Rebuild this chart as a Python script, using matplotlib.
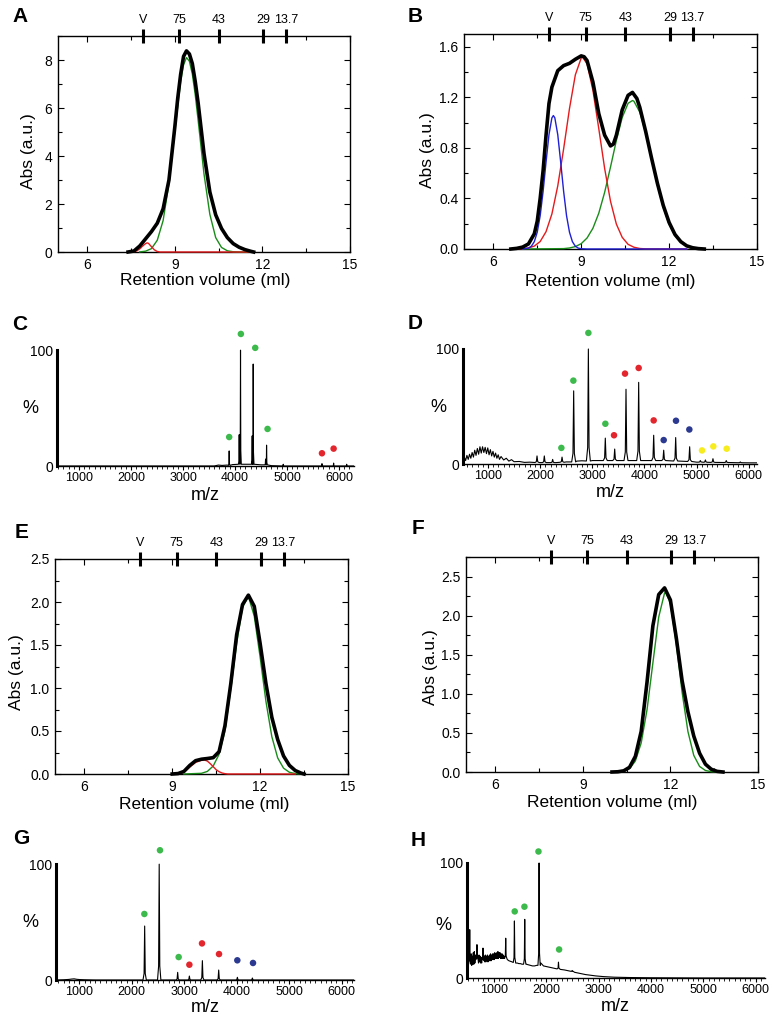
import matplotlib
matplotlib.use("Agg")
import matplotlib.pyplot as plt
from matplotlib.ticker import MultipleLocator, FormatStrFormatter

plt.rcParams['font.family'] = ['Liberation Sans', 'DejaVu Sans']

# ---------------- size-exclusion markers (top axis) ----------------
marker_vol = [7.9, 9.15, 10.5, 12.03, 12.8]
marker_lbl = ['V', '75', '43', '29', '13.7']

# ---------------- panel A ----------------
a_vol = [7.4, 7.6, 7.8, 8.0, 8.2, 8.4, 8.6, 8.8, 9.0, 9.1, 9.2, 9.3, 9.4, 9.5, 9.6, 9.7,
         9.8, 10.0, 10.2, 10.4, 10.6, 10.8, 11.0, 11.2, 11.4, 11.6, 11.7]
a_abs = [0, 0.04, 0.25, 0.55, 0.85, 1.2, 1.8, 3.0, 5.2, 6.4, 7.4, 8.15, 8.38, 8.25, 7.85,
         7.1, 6.2, 4.1, 2.5, 1.55, 0.98, 0.6, 0.35, 0.2, 0.1, 0.03, 0]
a_green_vol = [7.8, 8.0, 8.2, 8.4, 8.6, 8.8, 9.0, 9.2, 9.3, 9.4, 9.5, 9.6, 9.7, 9.8, 10.0,
               10.2, 10.4, 10.6, 10.8, 11.0, 11.2, 11.6]
a_green_abs = [0.005, 0.035, 0.14, 0.49, 1.31, 2.86, 5.03, 7.1, 7.8, 8.1, 7.95, 7.42, 6.55,
               5.48, 3.25, 1.57, 0.6, 0.19, 0.05, 0.01, 0, 0]
a_red_vol = [7.5, 7.6, 7.7, 7.8, 7.9, 8.0, 8.05, 8.1, 8.2, 8.3, 8.4, 8.5, 11.6]
a_red_abs = [0, 0.01, 0.05, 0.13, 0.25, 0.35, 0.38, 0.36, 0.22, 0.09, 0.02, 0, 0]

# ---------------- panel B ----------------
b_vol = [6.6, 6.8, 7.0, 7.2, 7.4, 7.5, 7.6, 7.7, 7.8, 7.9, 8.0, 8.2, 8.4, 8.6, 8.8, 9.0,
         9.1, 9.2, 9.4, 9.6, 9.8, 10.0, 10.1, 10.2, 10.4, 10.6, 10.75, 10.9, 11.0, 11.2,
         11.4, 11.6, 11.8, 12.0, 12.2, 12.4, 12.6, 12.8, 13.0, 13.2]
b_abs = [0, 0.005, 0.015, 0.04, 0.12, 0.22, 0.4, 0.62, 0.9, 1.15, 1.28, 1.41, 1.45, 1.468,
         1.5, 1.527, 1.52, 1.49, 1.32, 1.07, 0.9, 0.815, 0.83, 0.9, 1.1, 1.215, 1.238, 1.19,
         1.12, 0.93, 0.72, 0.52, 0.345, 0.21, 0.115, 0.058, 0.025, 0.01, 0.003, 0]
b_blue_vol = [7.0, 7.2, 7.3, 7.4, 7.5, 7.6, 7.7, 7.8, 7.9, 8.0, 8.05, 8.1, 8.2, 8.3, 8.4,
              8.5, 8.6, 8.7, 8.8, 8.9, 9.0, 9.2, 12.6]
b_blue_abs = [0.001, 0.007, 0.022, 0.058, 0.133, 0.263, 0.456, 0.687, 0.904, 1.037, 1.055,
              1.037, 0.904, 0.687, 0.456, 0.263, 0.133, 0.058, 0.022, 0.007, 0.002, 0, 0]
b_red_vol = [6.8, 7.0, 7.2, 7.4, 7.6, 7.8, 8.0, 8.2, 8.4, 8.6, 8.8, 9.0, 9.05, 9.2, 9.4,
             9.6, 9.8, 10.0, 10.2, 10.4, 10.6, 10.8, 11.0, 11.2, 12.6]
b_red_abs = [0, 0.002, 0.008, 0.023, 0.059, 0.137, 0.277, 0.499, 0.791, 1.11, 1.377, 1.51,
             1.516, 1.464, 1.255, 0.952, 0.637, 0.378, 0.197, 0.092, 0.037, 0.014, 0.004,
             0.001, 0]
b_green_vol = [7.0, 8.4, 8.6, 8.8, 9.0, 9.2, 9.4, 9.6, 9.8, 10.0, 10.2, 10.4, 10.6, 10.75,
               10.8, 11.0, 11.2, 11.4, 11.6, 11.8, 12.0, 12.2, 12.4, 12.6, 12.8, 13.0, 13.2]
b_green_abs = [0, 0.003, 0.008, 0.019, 0.042, 0.087, 0.164, 0.283, 0.448, 0.648, 0.858,
               1.04, 1.152, 1.174, 1.168, 1.082, 0.918, 0.712, 0.505, 0.328, 0.195, 0.106,
               0.052, 0.024, 0.01, 0.004, 0]

# ---------------- panel E ----------------
e_vol = [9.0, 9.2, 9.4, 9.6, 9.8, 10.0, 10.2, 10.4, 10.6, 10.8, 11.0, 11.2, 11.4, 11.6,
         11.8, 12.0, 12.2, 12.4, 12.6, 12.8, 13.0, 13.2, 13.4, 13.5]
e_abs = [0, 0.005, 0.03, 0.1, 0.155, 0.172, 0.18, 0.19, 0.26, 0.56, 1.05, 1.62, 1.97, 2.08,
         1.95, 1.52, 1.05, 0.66, 0.4, 0.21, 0.1, 0.04, 0.01, 0]
e_green_vol = [9.4, 10.0, 10.2, 10.4, 10.6, 10.8, 11.0, 11.2, 11.4, 11.6, 11.8, 12.0, 12.2,
               12.4, 12.6, 12.8, 13.0, 13.2, 13.4]
e_green_abs = [0, 0.008, 0.03, 0.093, 0.23, 0.5, 0.992, 1.519, 1.939, 2.066, 1.837, 1.362,
               0.843, 0.435, 0.187, 0.068, 0.02, 0.005, 0]
e_red_vol = [9.2, 9.4, 9.6, 9.8, 10.0, 10.1, 10.2, 10.3, 10.4, 10.5, 10.6, 10.7, 10.8,
             10.9, 13.2]
e_red_abs = [0, 0.02, 0.08, 0.135, 0.16, 0.163, 0.15, 0.12, 0.085, 0.05, 0.027, 0.012,
             0.004, 0, 0]

# ---------------- panel F ----------------
f_vol = [10.0, 10.2, 10.4, 10.6, 10.8, 11.0, 11.2, 11.4, 11.6, 11.8, 12.0, 12.2, 12.4,
         12.6, 12.8, 13.0, 13.2, 13.4, 13.6, 13.8]
f_abs = [0, 0.003, 0.015, 0.06, 0.2, 0.52, 1.15, 1.87, 2.27, 2.355, 2.2, 1.72, 1.17, 0.77,
         0.46, 0.24, 0.1, 0.035, 0.008, 0]
f_green_vol = [10.0, 10.2, 10.4, 10.6, 10.8, 11.0, 11.2, 11.4, 11.6, 11.8, 11.84, 12.0,
               12.2, 12.4, 12.6, 12.8, 13.0, 13.2, 13.4, 13.6]
f_green_abs = [0, 0.002, 0.011, 0.043, 0.141, 0.372, 0.798, 1.395, 1.982, 2.29, 2.3, 2.153,
               1.647, 1.023, 0.518, 0.213, 0.071, 0.019, 0.004, 0]

# ---------------- panel C (native MS) ----------------
c_bg_mz = [576, 3600, 3680, 3750, 3850, 3950, 4200, 4500, 4700, 5000, 6289]
c_bg_pct = [0, 0, 0.8, 0.5, 0.8, 1.2, 1.5, 1.0, 0.3, 0, 0]
c_pk_mz = [3888, 4081, 4106, 4331, 4350, 4588, 4607, 4928, 5673, 5897, 6148]
c_pk_top = [13, 27, 100, 26, 88, 6, 18, 1.5, 2, 2.5, 1.5]
c_pk_base = [0.5, 1.5, 1.5, 1.5, 1.5, 1, 1, 0, 0, 0, 0]
c_dot_mz = [3888, 4113, 4389, 4626, 5673, 5897]
c_dot_pct = [25, 114, 102, 32, 11, 15]
c_dot_col = ['g', 'g', 'g', 'g', 'r', 'r']

# ---------------- panel D ----------------
d_bg_mz = [520, 545, 570, 595, 620, 645, 670, 695, 720, 745, 770, 795, 820, 845, 870, 895,
           920, 945, 970, 995, 1020, 1045, 1070, 1095, 1120, 1145, 1170, 1195, 1220, 1250,
           1300, 1350, 1400, 1450, 1500, 1600, 1700, 1800, 2000, 2300, 2500, 2700, 2800,
           3000, 3500, 4000, 4400, 4800, 5000, 5500, 6000, 6160]
d_bg_pct = [2.5, 6, 3, 7.5, 4, 8.5, 5, 10, 6, 12, 7.5, 13.5, 8.5, 15, 9.5, 15, 10, 14.5, 9,
            14, 8, 12.5, 7, 11, 6, 9.5, 5, 8, 4, 6.5, 3.5, 5, 2.5, 3.8, 2, 2.2, 1.4, 1.6,
            1.2, 1.2, 1.8, 2.5, 2.8, 3, 3, 3, 2.8, 2.2, 1.6, 1.3, 1, 1]
d_pk_mz = [1940, 2080, 2240, 2420, 2643, 2925, 3250, 3430, 3647, 3890, 4178, 4370, 4600,
           4868, 5073, 5170, 5315, 5570, 5840]
d_pk_top = [7, 7, 4, 6, 63.6, 100, 22.5, 13, 65, 71, 25, 12, 23, 15, 3, 3.5, 4.6, 3, 1.8]
d_pk_base = [1.3, 1.2, 1.2, 1.5, 1.8, 2.6, 3, 3, 3, 3, 3, 3, 2.6, 2.2, 1.6, 1.5, 1.4, 1.3, 1.1]
d_dot_mz = [2407, 2637, 2925, 3251, 3417, 3628, 3890, 4178, 4370, 4606, 4862, 5105, 5322, 5578]
d_dot_pct = [14, 72.5, 114, 35, 25, 78.6, 83.5, 37.9, 20.8, 37.6, 30, 11.8, 15.3, 13.3]
d_dot_col = ['g', 'g', 'g', 'g', 'r', 'r', 'r', 'r', 'b', 'b', 'b', 'y', 'y', 'y']

# ---------------- panel G ----------------
g_bg_mz = [555, 700, 800, 850, 900, 950, 1000, 1100, 1300, 6235]
g_bg_pct = [0, 0.2, 0.5, 0.8, 1.0, 0.6, 0.4, 0.2, 0, 0]
g_pk_mz = [2245, 2522, 2874, 3097, 3345, 3656, 4012, 4298]
g_pk_top = [46.6, 100, 6.6, 3.4, 16.7, 8.6, 2.3, 1.7]
g_pk_base = [0, 0, 0, 0, 0, 0, 0, 0]
g_dot_mz = [2239, 2537, 2893, 3097, 3338, 3662, 4011, 4310]
g_dot_pct = [57, 112, 19.8, 13.2, 31.6, 22.4, 17, 14.7]
g_dot_col = ['g', 'g', 'g', 'r', 'r', 'r', 'b', 'b']

# ---------------- panel H ----------------
h_bg_mz = [500, 510, 520, 530, 550, 560, 570, 580, 590, 600, 610, 620, 630, 640, 650, 660,
           670, 690, 700, 710, 720, 730, 740, 750, 760, 770, 780, 810, 820, 830, 840, 850,
           860, 870, 880, 890, 900, 910, 920, 930, 940, 950, 960, 970, 980, 990, 1000, 1010,
           1020, 1030, 1040, 1050, 1060, 1070, 1080, 1090, 1100, 1110, 1120, 1130, 1140,
           1150, 1160, 1170, 1180, 1190, 1200, 1260, 1290, 1320, 1350, 1370, 1420, 1450,
           1480, 1510, 1540, 1565, 1620, 1660, 1700, 1740, 1780, 1820, 1900, 1950, 2000,
           2050, 2100, 2150, 2200, 2270, 2350, 2420, 2540, 2650, 2750, 2830, 2950, 3100,
           3300, 3600, 4000, 4500, 5000, 6178]
h_bg_pct = [5, 14, 9, 22, 18, 10, 21, 11, 19, 12, 22, 12, 23, 13, 20, 13, 19, 14, 21, 13,
            20, 14, 19, 13, 18, 13, 19, 14, 19, 14, 20, 14, 19, 15, 20, 14, 19, 15, 20, 15,
            21, 15, 20, 16, 21, 16, 21, 16, 22, 17, 21, 17, 22, 17, 23, 17, 22, 18, 22, 17,
            21, 17, 21, 17, 20, 17, 19, 16, 15, 14.5, 14, 13.5, 13, 13, 12.5, 12.5, 12, 12,
            12, 11.5, 11, 10.5, 10.5, 11, 13, 10.5, 10, 9.5, 9, 8.5, 8, 7.5, 7, 6.3, 5, 4,
            3, 2.5, 1.8, 1.2, 0.7, 0.4, 0.2, 0.1, 0, 0]
h_pk_mz = [542, 680, 795, 1229, 1395, 1592, 1866, 2236, 2497]
h_pk_top = [42, 29, 26, 34.6, 49.6, 51, 100, 13.8, 6.5]
h_pk_base = [12, 16, 15, 17, 13.5, 12, 11, 8, 5.8]
h_dot_mz = [1401, 1586, 1854, 2248]
h_dot_pct = [57.9, 62, 110, 24.8]
h_dot_col = ['g', 'g', 'g', 'g']

dot_colors = {'g': '#3dba4c', 'r': '#e3262e', 'b': '#2b3990', 'y': '#f7ec1d'}
c_green, c_red, c_blue = '#1a8c1a', '#e41a1c', '#1f1fd6'

W, H = 782, 1026
fig = plt.figure(figsize=(W / 100, H / 100), dpi=100)


def add_axes_px(l, t, r, b):
    return fig.add_axes([l / W, 1 - b / H, (r - l) / W, (b - t) / H])


def chrom_axes(box, ymax, ystep, fmt, label_xy, ylabel_xy):
    ax = add_axes_px(*box)
    tw = ax.twiny()
    tw.set_xlim(5, 15)
    tw.set_xticks(marker_vol)
    tw.set_xticklabels(marker_lbl)
    tw.tick_params(axis='x', direction='inout', length=10, width=2.2, labelsize=9, pad=2)
    for s in tw.spines.values():
        s.set_visible(False)
    ax.set_xlim(5, 15)
    ax.set_ylim(0, ymax)
    ax.xaxis.set_major_locator(MultipleLocator(3))
    ax.xaxis.set_minor_locator(MultipleLocator(1.5))
    ax.yaxis.set_major_locator(MultipleLocator(ystep))
    ax.yaxis.set_minor_locator(MultipleLocator(ystep / 2))
    if fmt:
        ax.yaxis.set_major_formatter(FormatStrFormatter(fmt))
    ax.tick_params(which='both', direction='in', top=True, right=True, labelsize=10, pad=4)
    ax.tick_params(which='major', length=4, width=0.8)
    ax.tick_params(which='minor', length=3, width=0.8)
    for s in ax.spines.values():
        s.set_linewidth(1.0)
    ax.set_xlabel('Retention volume (ml)', fontsize=12.5, va='center')
    ax.xaxis.set_label_coords(*label_xy)
    ax.set_ylabel('Abs (a.u.)', fontsize=12.5, va='center')
    ax.yaxis.set_label_coords(*ylabel_xy)
    return ax


def spectrum_line(bg_mz, bg_pct, pk_mz, pk_top, pk_base, half):
    pts = [(x, y) for x, y in zip(bg_mz, bg_pct) if all(abs(x - m) > half for m in pk_mz)]
    for m, top, base in zip(pk_mz, pk_top, pk_base):
        foot = base + 0.12 * (top - base)
        pts += [(m - half, base), (m - 0.35 * half, foot), (m, top),
                (m + 0.35 * half, foot), (m + half, base)]
    pts.sort()
    return [p[0] for p in pts], [p[1] for p in pts]


def ms_axes(box, xlim, label_xy, pct_xy):
    ax = add_axes_px(*box)
    ax.set_xlim(*xlim)
    ax.set_ylim(0, 120)
    ax.spines['top'].set_visible(False)
    ax.spines['right'].set_visible(False)
    ax.spines['left'].set_linewidth(2.2)
    ax.spines['left'].set_bounds(0, 100)
    ax.spines['bottom'].set_linewidth(1.0)
    ax.set_yticks([0, 100])
    ax.tick_params(axis='y', length=0, labelsize=10, pad=3)
    ax.xaxis.set_major_locator(MultipleLocator(1000))
    ax.xaxis.set_minor_locator(MultipleLocator(100))
    ax.tick_params(axis='x', which='major', direction='out', length=3, width=0.8,
                   labelsize=9, pad=1.5)
    ax.tick_params(axis='x', which='minor', direction='out', length=2, width=0.6)
    ax.set_xlabel('m/z', fontsize=13, va='center')
    ax.xaxis.set_label_coords(*label_xy)
    ax.set_ylabel('%', fontsize=13, rotation=0, va='center', ha='center')
    ax.yaxis.set_label_coords(*pct_xy)
    return ax


def draw_ms(ax, bg_mz, bg_pct, pk_mz, pk_top, pk_base, half, dot_mz, dot_pct, dot_col):
    x, y = spectrum_line(bg_mz, bg_pct, pk_mz, pk_top, pk_base, half)
    ax.plot(x, y, color='black', lw=0.8, zorder=3)
    ax.scatter(dot_mz, dot_pct, s=22, c=[dot_colors[k] for k in dot_col],
               edgecolors='none', zorder=4, clip_on=False)


# ---- A ----
ax = chrom_axes((58, 36, 350, 252), 9, 2, None, (0.503, -0.134), (-0.10, 0.468))
ax.plot(a_green_vol, a_green_abs, color=c_green, lw=1.0, zorder=3, clip_on=False)
ax.plot(a_red_vol, a_red_abs, color=c_red, lw=1.0, zorder=3, clip_on=False)
ax.plot(a_vol, a_abs, color='black', lw=2.6, zorder=4, clip_on=False)

# ---- B ----
ax = chrom_axes((464, 34, 757, 249), 1.7, 0.4, '%.1f', (0.498, -0.149), (-0.126, 0.46))
ax.plot(b_green_vol, b_green_abs, color=c_green, lw=1.0, zorder=3, clip_on=False)
ax.plot(b_red_vol, b_red_abs, color=c_red, lw=1.0, zorder=3, clip_on=False)
ax.plot(b_blue_vol, b_blue_abs, color=c_blue, lw=1.0, zorder=3, clip_on=False)
ax.plot(b_vol, b_abs, color='black', lw=2.6, zorder=4, clip_on=False)

# ---- E ----
ax = chrom_axes((55, 559, 348, 774), 2.5, 0.5, '%.1f', (0.51, -0.14), (-0.133, 0.474))
ax.plot(e_green_vol, e_green_abs, color=c_green, lw=1.0, zorder=3, clip_on=False)
ax.plot(e_red_vol, e_red_abs, color=c_red, lw=1.0, zorder=3, clip_on=False)
ax.plot(e_vol, e_abs, color='black', lw=2.6, zorder=4, clip_on=False)

# ---- F ----
ax = chrom_axes((466, 557, 758, 772), 2.75, 0.5, '%.1f', (0.5, -0.14), (-0.123, 0.486))
ax.plot(f_green_vol, f_green_abs, color=c_green, lw=1.0, zorder=3, clip_on=False)
ax.plot(f_vol, f_abs, color='black', lw=2.6, zorder=4, clip_on=False)

# ---- mass spectra ----
ax = ms_axes((57, 327, 354, 466), (576, 6289), (0.498, -0.212), (-0.091, 0.417))
draw_ms(ax, c_bg_mz, c_bg_pct, c_pk_mz, c_pk_top, c_pk_base, 15, c_dot_mz, c_dot_pct, c_dot_col)

ax = ms_axes((463, 326, 757, 464), (520, 6160), (0.5, -0.203), (-0.085, 0.413))
draw_ms(ax, d_bg_mz, d_bg_pct, d_pk_mz, d_pk_top, d_pk_base, 38, d_dot_mz, d_dot_pct, d_dot_col)

ax = ms_axes((56, 841, 354, 980), (555, 6235), (0.5, -0.2), (-0.087, 0.417))
draw_ms(ax, g_bg_mz, g_bg_pct, g_pk_mz, g_pk_top, g_pk_base, 32, g_dot_mz, g_dot_pct, g_dot_col)

ax = ms_axes((467, 840, 765, 978), (490, 6178), (0.497, -0.203), (-0.08, 0.384))
draw_ms(ax, h_bg_mz, h_bg_pct, h_pk_mz, h_pk_top, h_pk_base, 22, h_dot_mz, h_dot_pct, h_dot_col)

# panel letters
for letter, (x, y) in zip('ABCDEFGH', [(20, 16), (415, 16), (20, 324), (415, 323),
                                       (22, 532), (418, 528), (21, 839), (418, 840)]):
    fig.text(x / W, 1 - y / H, letter, fontsize=15, fontweight='bold', ha='center', va='center')

fig.savefig('out.png', dpi=100)
plt.close(fig)
